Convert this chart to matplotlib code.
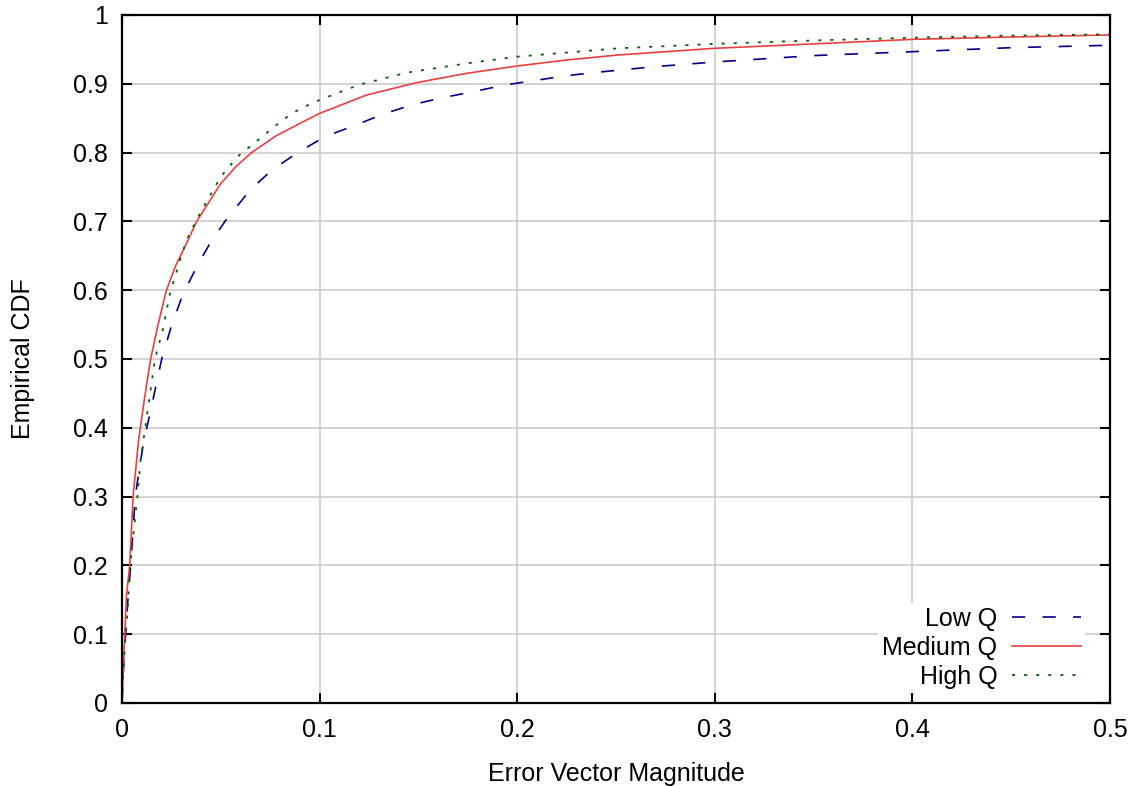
import matplotlib
matplotlib.use("Agg")
import matplotlib.pyplot as plt

plt.rcParams['font.family'] = ['Liberation Sans', 'DejaVu Sans']
plt.rcParams['lines.scale_dashes'] = False

low_x = [0, 0.001, 0.003, 0.0044, 0.0067, 0.0089, 0.0111, 0.0138, 0.0201, 0.0251, 0.0307, 0.0378,
         0.0445, 0.0521, 0.0648, 0.076, 0.0884, 0.1027, 0.1171, 0.1322, 0.1474, 0.1626, 0.1778,
         0.1938, 0.2082, 0.225, 0.2402, 0.27, 0.3, 0.35, 0.4, 0.45, 0.5]
low_y = [0, 0.067, 0.15, 0.2, 0.3, 0.343, 0.382, 0.416, 0.5, 0.549, 0.593, 0.634,
         0.668, 0.7, 0.7456, 0.775, 0.799, 0.8232, 0.8387, 0.856, 0.870, 0.880, 0.8886,
         0.8983, 0.9045, 0.9118, 0.9167, 0.925, 0.9317, 0.941, 0.9467, 0.9525, 0.956]

med_x = [0, 0.001, 0.0022, 0.0039, 0.0056, 0.0084, 0.0116, 0.0145, 0.0185, 0.0225, 0.0272, 0.0319,
         0.0378, 0.05, 0.0578, 0.0656, 0.0778, 0.0901, 0.1, 0.1238, 0.1491, 0.1744, 0.2, 0.225,
         0.2511, 0.3, 0.35, 0.4, 0.45, 0.5]
med_y = [0, 0.072, 0.1545, 0.2, 0.3, 0.382, 0.447, 0.5, 0.553, 0.6, 0.636, 0.6633,
         0.7, 0.755, 0.780, 0.8, 0.824, 0.8426, 0.857, 0.8837, 0.9017, 0.9152, 0.9259, 0.9346,
         0.9419, 0.9516, 0.958, 0.9646, 0.968, 0.971]

high_x = [0, 0.0003, 0.0013, 0.0027, 0.0039, 0.0056, 0.0078, 0.0094, 0.0111, 0.0167, 0.0206, 0.0243,
          0.0294, 0.0327, 0.0395, 0.05, 0.0584, 0.0816, 0.0901, 0.1, 0.1204, 0.1441, 0.1744, 0.2,
          0.2511, 0.3, 0.35, 0.4, 0.45, 0.5]
high_y = [0, 0.024, 0.077, 0.13, 0.1885, 0.2417, 0.3, 0.353, 0.387, 0.5, 0.542, 0.5955,
          0.644, 0.673, 0.7118, 0.765, 0.794, 0.848, 0.8638, 0.8765, 0.899, 0.9162, 0.9297, 0.9394,
          0.9516, 0.958, 0.963, 0.967, 0.970, 0.972]

labels = ["Low Q", "Medium Q", "High Q"]
x_ticks = [0, 0.1, 0.2, 0.3, 0.4, 0.5]
x_tick_labels = ["0", "0.1", "0.2", "0.3", "0.4", "0.5"]
y_ticks = [0, 0.1, 0.2, 0.3, 0.4, 0.5, 0.6, 0.7, 0.8, 0.9, 1.0]
y_tick_labels = ["0", "0.1", "0.2", "0.3", "0.4", "0.5", "0.6", "0.7", "0.8", "0.9", "1"]

FS = 18

fig = plt.figure(figsize=(11.41, 7.87), dpi=100)
ax = fig.add_axes([122/1141, 1 - 703/787, (1110-122)/1141, (703-15)/787])

ax.plot(low_x, low_y, color='#00008b', lw=1.2, dashes=(9.5, 12.5), label=labels[0])
ax.plot(med_x, med_y, color='#e8403f', lw=1.2, label=labels[1])
ax.plot(high_x, high_y, color='#006400', lw=1.3, dashes=(2.2, 6.5), label=labels[2])

ax.set_xlim(0, 0.5)
ax.set_ylim(0, 1)
ax.set_xticks(x_ticks)
ax.set_xticklabels(x_tick_labels)
ax.set_yticks(y_ticks)
ax.set_yticklabels(y_tick_labels)
ax.grid(True, color='#cccccc', lw=1.2)
ax.set_axisbelow(True)
ax.tick_params(direction='in', length=7, width=1.5, top=True, right=True,
               labelsize=FS, colors='black')
ax.tick_params(axis='y', pad=10)
ax.tick_params(axis='x', pad=10.5)
for s in ax.spines.values():
    s.set_linewidth(1.6)

ax.set_xlabel("Error Vector Magnitude", fontsize=FS, labelpad=15)
ax.set_ylabel("Empirical CDF", fontsize=FS, labelpad=27.5)

leg = ax.legend(loc='lower right', bbox_to_anchor=(0.9747, 0.0147), markerfirst=False,
                frameon=True, facecolor='white', edgecolor='none', framealpha=1,
                fancybox=False, fontsize=FS, handlelength=2.76, handletextpad=0.6,
                labelspacing=0.2, borderpad=0.15, borderaxespad=0)
for t in leg.get_texts():
    t.set_ha('right')
leg._legend_box.align = 'right'

fig.savefig("out.png", dpi=100)
